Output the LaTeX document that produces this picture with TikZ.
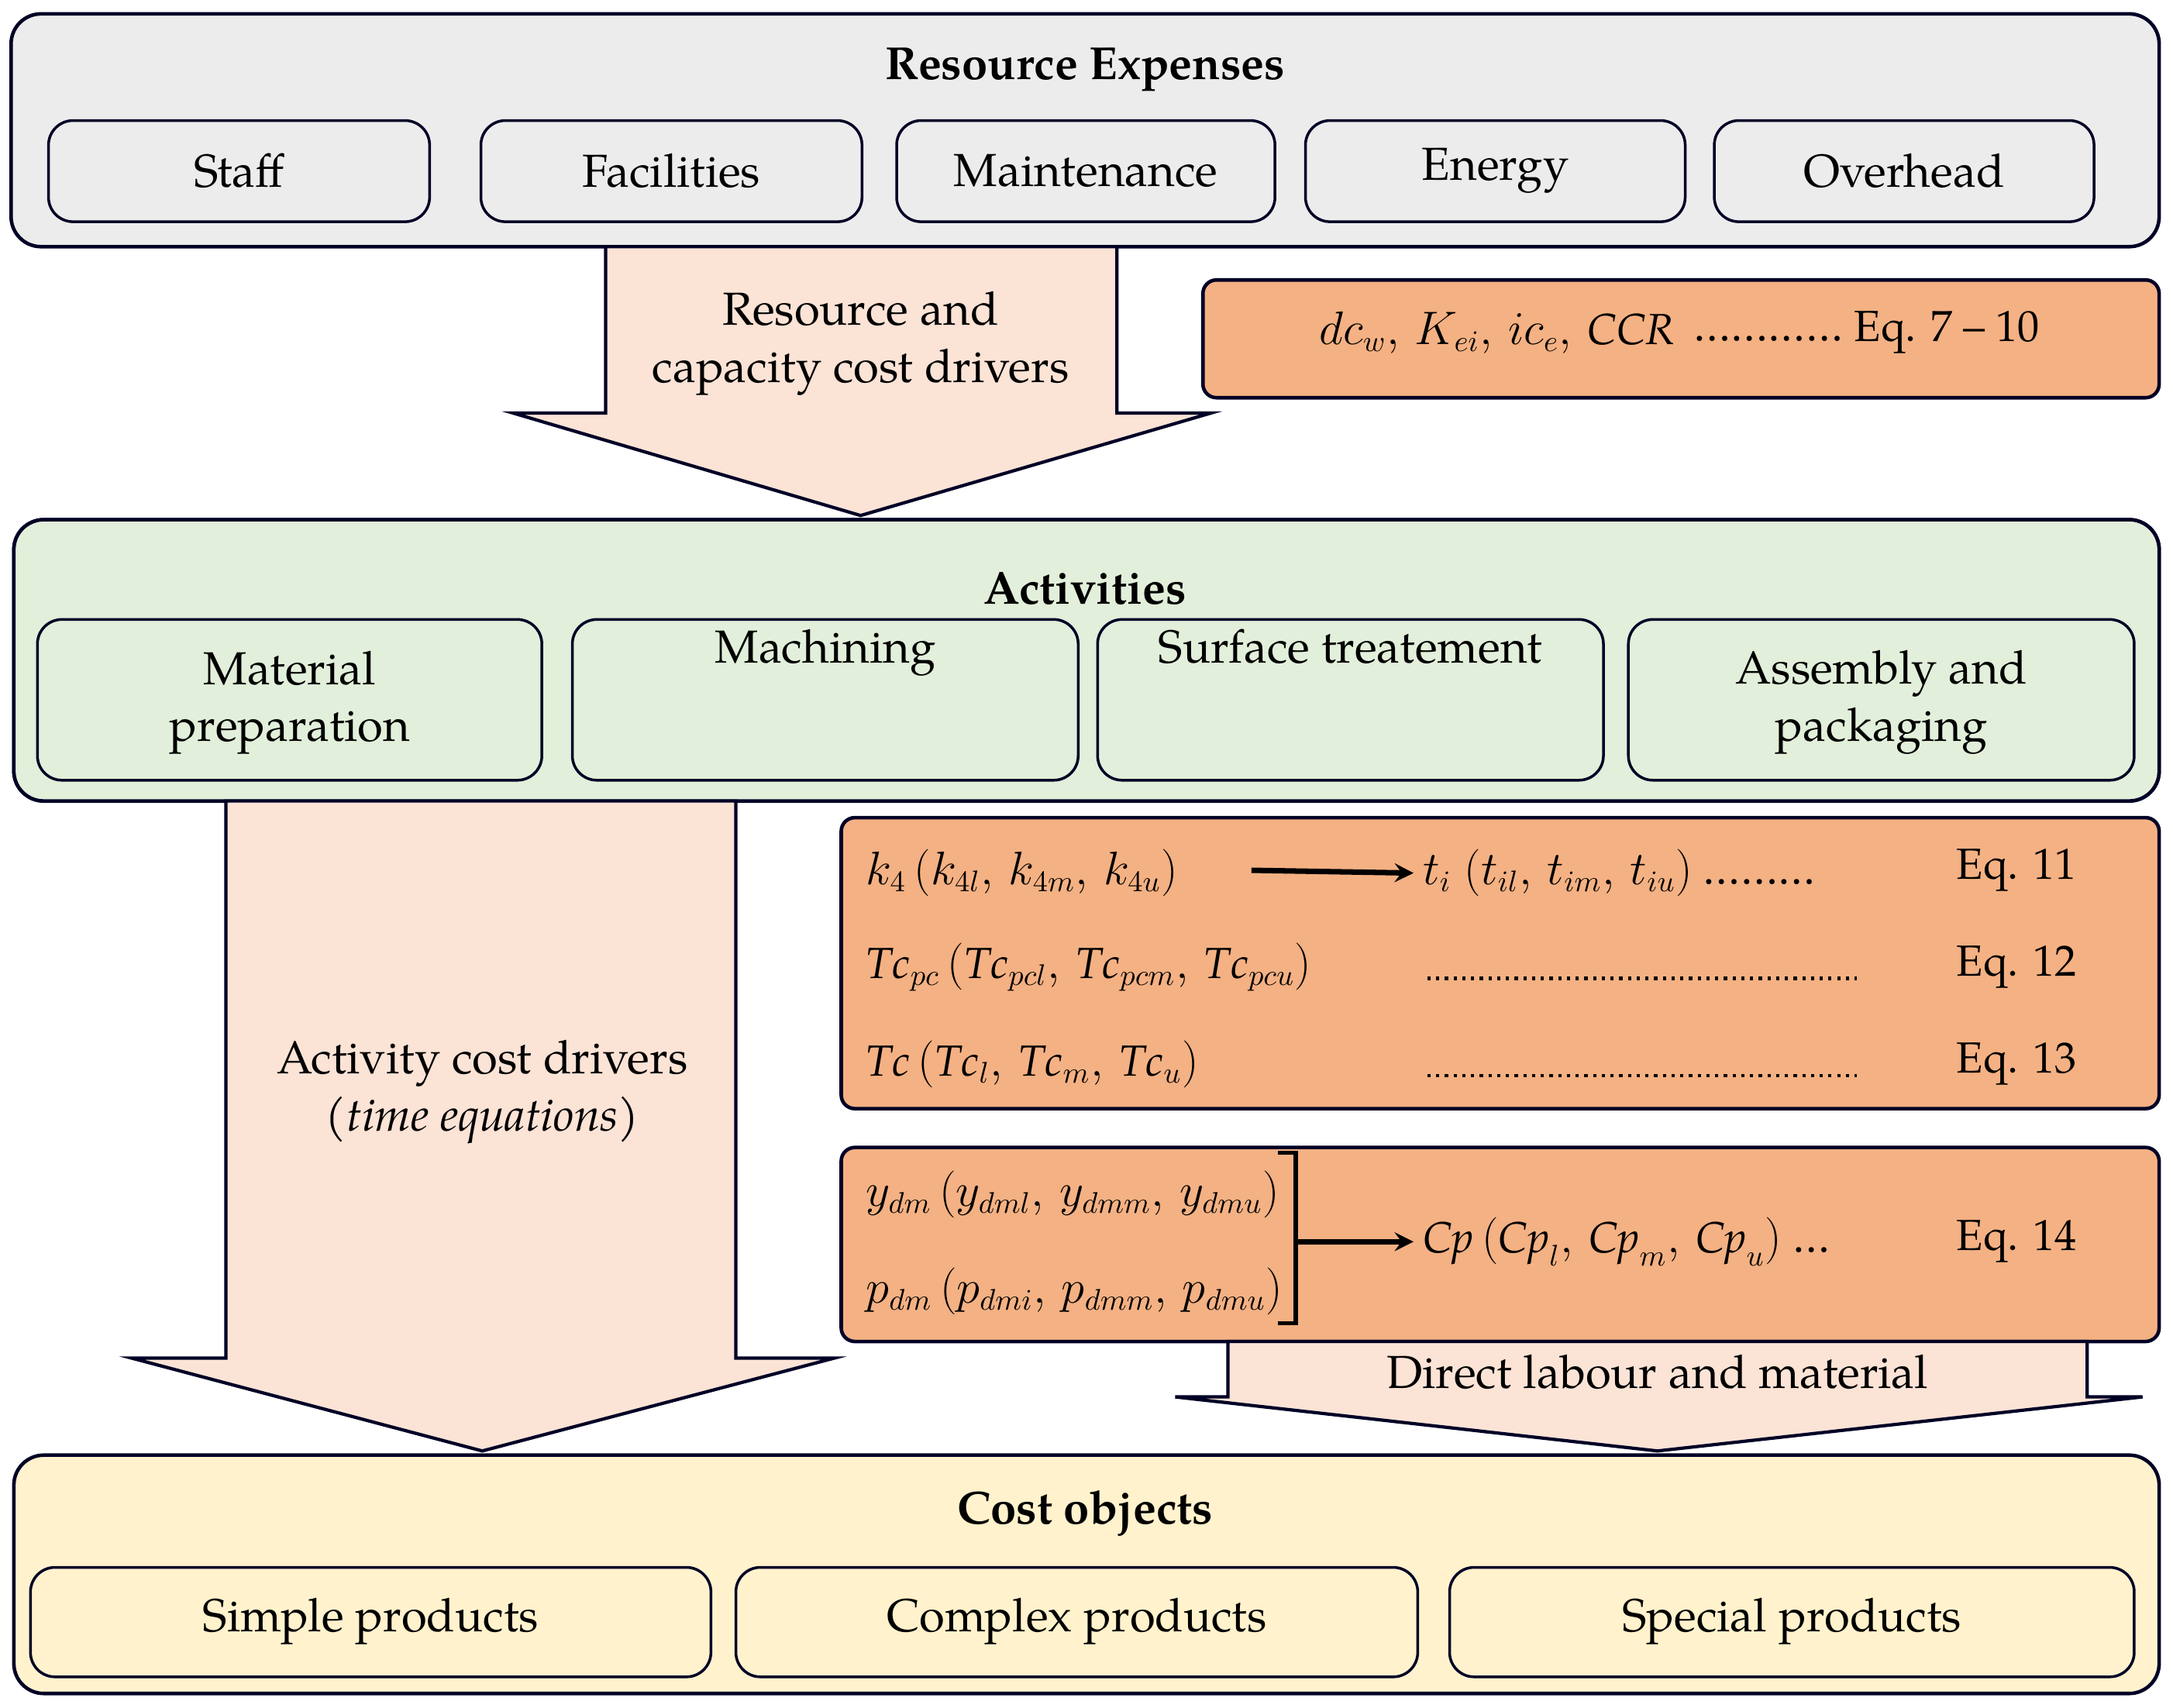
\documentclass[tikz,border=0pt]{standalone}
\usepackage{fontspec}
\setmainfont{TeX Gyre Pagella}[Scale=1]
\begin{document}
\begin{tikzpicture}[x=0.017883cm,y=-0.017883cm,
  nv/.style={draw=black!75!blue!60!black,line width=1.3pt},
  outer/.style={nv,rounded corners=11pt},
  inner/.style={nv,rounded corners=9pt,line width=1pt},
  eq/.style={nv,rounded corners=5pt,fill=eqc},
  blk/.style={nv,fill=arrc,line width=1.2pt},
  lab/.style={font=\fontsize{17}{21}\selectfont,align=center},
  ttl/.style={font=\fontsize{17}{21}\selectfont\bfseries},
  mt/.style={font=\fontsize{16}{20}\selectfont,anchor=west}]
\definecolor{eqc}{HTML}{F4B183}
\definecolor{arrc}{HTML}{FBE3D6}
\colorlet{nvc}{black!75!blue}
\useasboundingbox (0,0) rectangle (1568,1232);
% Resource expenses
\draw[outer,fill=gray!15] (8,10) rectangle (1558,178);
\node[ttl] (re) at (783,50) {Resource Expenses};
\foreach \a/\b/\t/\n in {35/310/Staff/s1,347/622/Facilities/s2,647/920/Maintenance/s3,942/1216/Energy/s4,1237/1511/Overhead/s5}{
  \draw[inner,fill=gray!15] (\a,87) rectangle (\b,160);
  \node[lab] (\n) at ({(\a+\b)/2},123) {\t};}
% arrow 1
\draw[blk] (437,178) -- (806,178) -- (806,298) -- (874,298) -- (621,372) -- (370,298) -- (437,298) -- cycle;
\node[lab] (a1) at (621,248) {Resource and\\capacity cost drivers};
% eq box 1
\draw[eq] (868,202) rectangle (1558,287);
\node[mt] (e1) at (945,240) {$dc_{w},\,K_{ei},\,ic_{e},\,\mathit{CCR}$\quad\dotfill};
\node[mt] (e1b) at (1215,240) {\makebox[0pt][l]{\ldots\ldots\ldots\ldots\ Eq. 7 -- 10}};
% activities
\draw[outer,fill=green!8!black!3!white,fill=green!20!white!60!gray!25] (10,375) rectangle (1558,578);
\draw[outer,fill={rgb,255:red,226;green,239;blue,218}] (10,375) rectangle (1558,578);
\node[ttl] (ac) at (783,425) {Activities};
\foreach \a/\b/\t/\n in {27/391/{Material\\preparation}/m1,413/778/{Machining\\[1.2em]}/m2,792/1157/{Surface treatement\\[1.2em]}/m3,1175/1540/{Assembly and\\packaging}/m4}{
  \draw[inner,fill={rgb,255:red,226;green,239;blue,218}] (\a,447) rectangle (\b,563);
  \node[lab] (\n) at ({(\a+\b)/2},507) {\t};}
% arrow 2
\draw[blk] (163,578) -- (531,578) -- (531,980) -- (602,980) -- (348,1047) -- (95,980) -- (163,980) -- cycle;
\node[lab] (a2) at (348,788) {Activity cost drivers\\\textit{(time equations)}};
% eq box 2
\draw[eq] (607,590) rectangle (1558,800);
\node[mt] (k4) at (618,630) {$k_4\,(k_{4l},\,k_{4m},\,k_{4u})$};
\coordinate (ar1s) at (903,628);
\node[mt] (ti) at (1020,630) {$t_i\;(t_{il},\,t_{im},\,t_{iu})$ \ldots\ldots\ldots};
\draw[line width=2pt,-stealth] (ar1s) -- (ti.west);
\node[mt] (tcp) at (618,698) {$\mathit{Tc}_{pc}\,(\mathit{Tc}_{pcl},\,\mathit{Tc}_{pcm},\,\mathit{Tc}_{pcu})$};
\node[mt] (tc) at (618,768) {$\mathit{Tc}\,(\mathit{Tc}_{l},\,\mathit{Tc}_{m},\,\mathit{Tc}_{u})$};
\draw[dotted,line width=1.2pt] (1030,706) -- (1340,706);
\draw[dotted,line width=1.2pt] (1030,776) -- (1340,776);
\node[mt] (q11) at (1405,628) {Eq. 11};
\node[mt] (q12) at (1405,698) {Eq. 12};
\node[mt] (q13) at (1405,768) {Eq. 13};
% eq box 3
\draw[eq] (607,828) rectangle (1558,968);
\node[mt] (yd) at (618,862) {$y_{dm}\,(y_{dml},\,y_{dmm},\,y_{dmu})$};
\node[mt] (pd) at (618,932) {$p_{dm}\,(p_{dmi},\,p_{dmm},\,p_{dmu})$};
\draw[line width=1.5pt] (922,832) -- (935,832) -- (935,955) -- (922,955);
\coordinate (br) at (935,896);
\node[mt] (cp) at (1020,896) {$\mathit{Cp}\,(\mathit{Cp}_{l},\,\mathit{Cp}_{m},\,\mathit{Cp}_{u})$ \ldots};
\draw[line width=2pt,-stealth] (br) -- (cp.west);
\node[mt] (q14) at (1405,896) {Eq. 14};
% arrow 3
\draw[blk] (886,968) -- (1506,968) -- (1506,1008) -- (1546,1008) -- (1196,1047) -- (848,1008) -- (886,1008) -- cycle;
\node[lab] (a3) at (1196,990) {Direct labour and material};
% cost objects
\draw[outer,fill={rgb,255:red,255;green,242;blue,204}] (10,1050) rectangle (1558,1222);
\node[ttl] (co) at (783,1092) {Cost objects};
\foreach \a/\b/\t/\n in {22/513/Simple products/c1,531/1023/Complex products/c2,1046/1540/Special products/c3}{
  \draw[inner,fill={rgb,255:red,255;green,242;blue,204}] (\a,1131) rectangle (\b,1210);
  \node[lab] (\n) at ({(\a+\b)/2},1170) {\t};}
\end{tikzpicture}
\end{document}
